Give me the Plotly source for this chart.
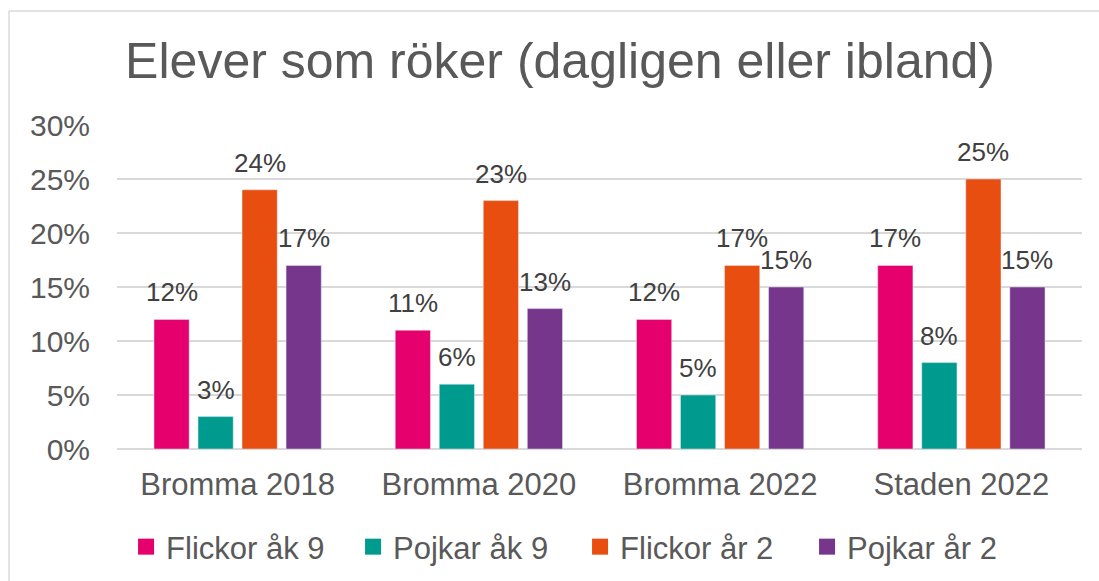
import plotly.graph_objects as go

categories = ["Bromma 2018", "Bromma 2020", "Bromma 2022", "Staden 2022"]
series_names = ["Flickor åk 9", "Pojkar åk 9", "Flickor år 2", "Pojkar år 2"]
flickor_ak9 = [0.12, 0.11, 0.12, 0.17]
pojkar_ak9 = [0.03, 0.06, 0.05, 0.08]
flickor_ar2 = [0.24, 0.23, 0.17, 0.25]
pojkar_ar2 = [0.17, 0.13, 0.15, 0.15]
series_values = [flickor_ak9, pojkar_ak9, flickor_ar2, pojkar_ar2]
colors = ["#E5006D", "#009B8F", "#E84E10", "#76368B"]
title_text = "Elever som röker (dagligen eller ibland)"

FONT = "Liberation Sans, Arial, sans-serif"
GRID = "#D9D9D9"
TXT = "#595959"
BARGAP = 0.27
n = len(series_values)

fig = go.Figure()
for name, vals, col in zip(series_names, series_values, colors):
    fig.add_trace(go.Bar(x=categories, y=vals, name=name, marker_color=col,
                         showlegend=False, hoverinfo="skip"))
    # legend proxy with larger square symbol
    fig.add_trace(go.Scatter(x=[None], y=[None], mode="markers", name=name,
                             marker=dict(symbol="square", size=16, color=col),
                             showlegend=True))

# data labels
slot = (1 - BARGAP) / n
for i, vals in enumerate(series_values):
    for j, v in enumerate(vals):
        fig.add_annotation(x=j + (i - (n - 1) / 2) * slot, y=v, xref="x", yref="y",
                           text=f"{round(v*100)}%", showarrow=False,
                           yanchor="bottom", yshift=10,
                           font=dict(family=FONT, size=26, color="#404040"))

# chart border (left and top visible)
fig.add_shape(type="line", xref="paper", yref="paper", x0=-0.1119, x1=1.2,
              y0=1.352, y1=1.352, line=dict(color=GRID, width=1.5))
fig.add_shape(type="line", xref="paper", yref="paper", x0=-0.1119, x1=-0.1119,
              y0=1.352, y1=-0.6, line=dict(color=GRID, width=1.5))

fig.update_layout(
    width=1099, height=581,
    margin=dict(l=117, r=17, t=125, b=132),
    paper_bgcolor="white", plot_bgcolor="white",
    barmode="group", bargap=BARGAP, bargroupgap=0.2,
    title=dict(text=title_text, x=0.5096, xref="container", xanchor="center",
               y=(581 - 60) / 581, yref="container", yanchor="middle",
               font=dict(family=FONT, size=50, color=TXT)),
    font=dict(family=FONT, color=TXT),
    legend=dict(orientation="h", xref="container", yref="container",
                x=0.5278, xanchor="center", y=(581 - 547) / 581, yanchor="middle",
                font=dict(family=FONT, size=31, color=TXT),
                entrywidth=182, itemwidth=30),
    xaxis=dict(showgrid=False, showline=False, ticks="", ticklabelstandoff=14,
               tickfont=dict(family=FONT, size=31, color=TXT), zeroline=False),
    yaxis=dict(range=[0, 0.3], dtick=0.05, tickformat=".0%", showgrid=True,
               gridcolor=GRID, gridwidth=1.5, zeroline=True, zerolinecolor=GRID,
               zerolinewidth=1.5, showline=False, ticks="", ticklabelstandoff=26,
               tickfont=dict(family=FONT, size=30, color=TXT)),
)

fig.write_html("out.html", config={"displayModeBar": False},
               post_script="document.body.style.margin='0';document.body.style.overflow='hidden';")
